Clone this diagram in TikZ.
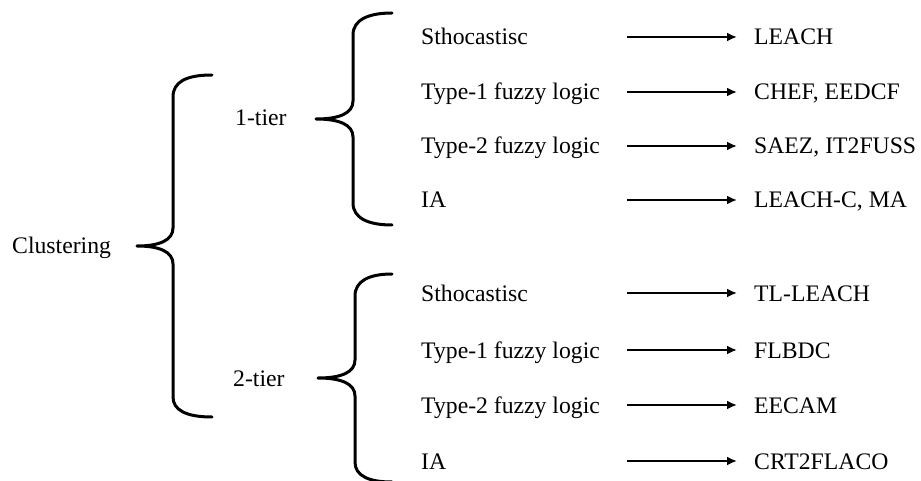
\documentclass[tikz,border=0pt]{standalone}
\usepackage{fontspec}
\setmainfont{Liberation Serif}
\usetikzlibrary{arrows.meta}
\begin{document}
\begin{tikzpicture}[x=1pt,y=-1pt,
  lbl/.style={anchor=base west,inner sep=0pt,font=\fontsize{23.7}{28}\selectfont},
  bracepath/.style={line width=3pt,line cap=round,line join=round},
  arr/.style={line width=2.8pt,-{Latex[length=10pt,width=9pt]}}]
\useasboundingbox (0,0) rectangle (921,481);
% main labels
\node[lbl] (cl) at (12,254) {Clustering};
\node[lbl] (t1) at (235,126) {1-tier};
\node[lbl] (t2) at (233,386) {2-tier};
% braces
\draw[bracepath] (212,75) .. controls (186,75) and (173,82) .. (173,97) -- (173,228)
  .. controls (173,240) and (160,246) .. (137,246)
  .. controls (160,246) and (173,252) .. (173,264) -- (173,397)
  .. controls (173,410) and (186,417) .. (212,417);
\draw[bracepath] (392,13) .. controls (368,13) and (353,20) .. (353,35) -- (353,101)
  .. controls (353,113) and (340,119) .. (316,119)
  .. controls (340,119) and (353,125) .. (353,137) -- (353,203)
  .. controls (353,218) and (368,225) .. (392,225);
\draw[bracepath] (392,274) .. controls (369,274) and (355,281) .. (355,296) -- (355,360)
  .. controls (355,372) and (342,378) .. (318,378)
  .. controls (342,378) and (355,384) .. (355,396) -- (355,462)
  .. controls (355,476) and (369,482) .. (392,482);
% rows
\foreach \i/\y/\a/\b in {1/37/Sthocastisc/LEACH,
  2/92/Type-1 fuzzy logic/{CHEF, EEDCF},
  3/146/Type-2 fuzzy logic/{SAEZ, IT2FUSS},
  4/200/IA/{LEACH-C, MA},
  5/293/Sthocastisc/TL-LEACH,
  6/350/Type-1 fuzzy logic/FLBDC,
  7/405/Type-2 fuzzy logic/EECAM,
  8/461/IA/CRT2FLACO}{
  \node[lbl] (l\i) at (421,\y+8) {\a};
  \node[lbl] (r\i) at (754,\y+8) {\b};
  \coordinate (s\i) at (627,\y);
  \coordinate (e\i) at (737,\y);
  \draw[arr] (s\i) -- (e\i);
}
\end{tikzpicture}
\end{document}
